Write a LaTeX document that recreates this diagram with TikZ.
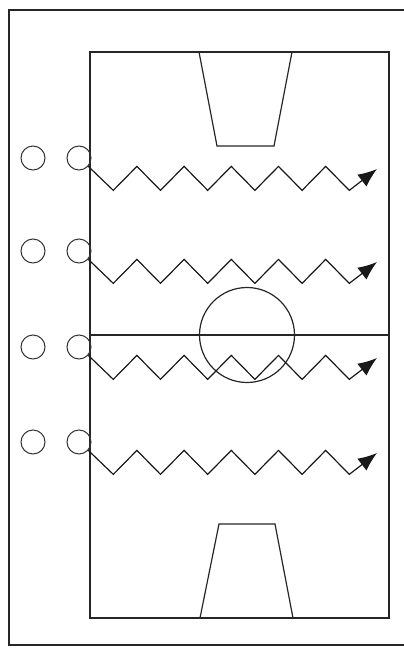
\documentclass[tikz,border=0pt]{standalone}
\usetikzlibrary{arrows.meta}
\begin{document}
\begin{tikzpicture}[x=1pt,y=-1pt,
  ln/.style={draw=black!85,line width=1.2pt},
  frame/.style={draw=black!85,line width=1.7pt},
  player/.style={circle,draw=black!80,line width=1pt,minimum size=24pt,inner sep=0pt},
  run/.style={draw=black!90,line width=1.2pt,line join=miter,-{Latex[length=19pt,width=15pt]}}]
\useasboundingbox (0,0) rectangle (404,656);
% outer frame (right side off the page)
\draw[frame] (404,10) -- (9,10) -- (9,645) -- (404,645);
% court
\draw[ln] (90,52) rectangle (389,618);
\draw[ln] (90,335) -- (389,335);
\draw[ln] (247,335) circle[radius=47.5];
% keys
\draw[ln] (199,52) -- (217,146) -- (274,146) -- (292,52);
\draw[ln] (200,618) -- (219,524) -- (275,524) -- (293,618);
% players
\foreach \r/\y in {1/158,2/251,3/347,4/442}{
  \node[player] (a\r) at (33,\y) {};
  \node[player] (b\r) at (79,\y) {};
  \coordinate (t\r) at (377,\y+11);
  \draw[run] (b\r.-42) -- ++(25,24)
    -- ++(23.6,-24) -- ++(23.6,24)
    -- ++(23.6,-24) -- ++(23.6,24)
    -- ++(23.6,-24) -- ++(23.6,24)
    -- ++(23.6,-24) -- ++(23.6,24)
    -- ++(23.6,-24) -- ++(23.6,24)
    -- (t\r);
}
\end{tikzpicture}
\end{document}
